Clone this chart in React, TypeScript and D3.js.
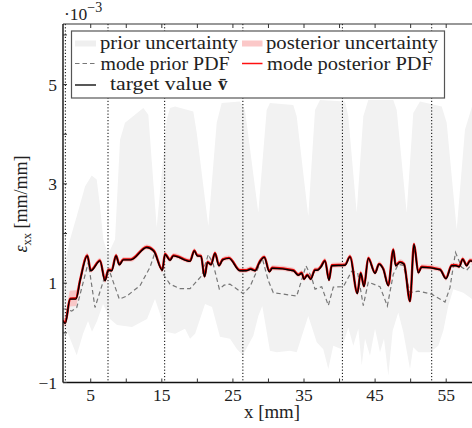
import React from 'react';
import * as d3 from 'd3';

// ---- data (strain values in units of 1e-3) ----
const targetX = [1.06,1.43,2.09,2.93,3.50,4.52,5.00,6.31,7.01,7.48,7.95,8.56,9.02,9.59,10.63,12.88,13.90,15.07,15.45,16.15,16.62,18.97,19.57,19.99,20.51,21.01,21.43,21.92,22.48,23.04,23.57,24.45,26.0,26.80,27.50,28.11,28.81,29.42,30.12,30.54,33.50,34.20,34.68,35.0,35.46,35.94,36.54,36.87,37.35,37.95,38.52,38.90,40.77,41.47,42.50,42.97,43.44,44.04,44.99,45.55,46.15,46.86,47.56,47.90,48.50,49.07,49.91,50.47,51.08,51.55,54.13,54.97,55.77,56.38,56.84,57.32,57.88,58.35,58.63];
const targetValue = [0.24,0.19,0.68,0.68,1.05,1.55,1.25,1.45,1.05,1.26,1.25,1.55,1.37,1.47,1.47,1.72,1.64,1.26,1.58,1.46,1.55,1.44,1.65,1.55,1.54,1.13,1.42,1.37,1.60,1.35,1.47,1.50,1.25,1.25,1.28,1.25,1.44,1.52,1.23,1.30,1.25,1.16,1.20,1.08,1.16,1.08,1.26,1.26,1.32,1.45,1.06,1.35,1.36,1.53,0.79,1.20,0.93,1.50,1.20,1.38,1.28,0.95,1.67,1.35,1.42,1.38,0.63,1.78,1.21,1.32,1.27,1.09,1.35,1.35,1.33,1.48,1.35,1.45,1.44];
const posteriorMode = [0.25,0.21,0.69,0.70,1.06,1.56,1.26,1.46,1.06,1.27,1.26,1.56,1.38,1.48,1.48,1.73,1.65,1.27,1.59,1.47,1.56,1.45,1.66,1.56,1.55,1.14,1.43,1.38,1.61,1.36,1.48,1.51,1.26,1.26,1.29,1.26,1.45,1.53,1.24,1.31,1.26,1.17,1.21,1.09,1.17,1.09,1.27,1.27,1.33,1.46,1.07,1.36,1.37,1.54,0.80,1.21,0.94,1.51,1.21,1.39,1.29,0.96,1.68,1.36,1.43,1.39,0.64,1.79,1.22,1.33,1.28,1.10,1.36,1.36,1.34,1.49,1.36,1.46,1.45];
const posteriorSpread = [0.06,0.08,0.16,0.16,0.09,0.06,0.05,0.05,0.05,0.05,0.05,0.05,0.05,0.05,0.05,0.05,0.05,0.05,0.05,0.05,0.05,0.05,0.05,0.05,0.05,0.05,0.05,0.05,0.05,0.05,0.05,0.05,0.05,0.05,0.05,0.05,0.05,0.05,0.05,0.05,0.05,0.05,0.05,0.05,0.05,0.05,0.05,0.05,0.05,0.05,0.05,0.05,0.05,0.05,0.05,0.05,0.05,0.05,0.05,0.05,0.05,0.05,0.05,0.05,0.05,0.05,0.05,0.05,0.05,0.05,0.05,0.05,0.05,0.05,0.05,0.05,0.05,0.05,0.05];

const priorModeX = [1.06,1.39,2.33,3.03,4.66,5.60,7.01,7.62,9.02,10.06,11.93,13.34,14.04,15.21,16.15,17.56,18.97,20.61,21.54,22.24,23.09,23.75,24.59,26.46,27.40,29.13,29.98,30.68,33.97,35.28,36.08,36.55,37.49,38.42,39.12,40.53,41.71,42.55,43.34,44.04,45.69,46.72,47.56,48.26,48.97,49.91,51.08,52.96,54.83,55.53,56.31,57.18,57.88,58.59];
const priorModeValue = [0.48,0.48,0.44,0.51,1.42,0.51,1.15,1.25,0.68,0.74,0.95,1.32,1.62,1.18,0.98,0.89,0.89,1.15,1.58,1.38,0.88,0.96,0.98,0.79,0.93,1.50,1.05,0.81,0.74,1.35,1.11,0.88,0.93,0.55,0.92,0.93,1.24,1.21,0.55,1.02,0.93,0.54,1.18,1.38,1.36,0.81,0.84,0.78,0.62,0.91,1.62,1.32,1.26,1.38];

const priorUpperX = [1.10,2.09,3.03,4.21,5.14,5.84,6.31,6.77,7.43,8.42,9.12,9.82,12.40,13.10,14.28,15.69,16.15,16.86,19.43,19.91,21.54,22.72,23.42,26.0,26.70,28.57,29.75,30.21,33.49,33.97,35.60,36.55,37.25,40.77,41.23,42.41,43.34,44.04,47.56,48.04,49.44,50.37,51.31,54.37,55.07,56.48,57.64,58.63];
const priorUpper = [1.2,1.88,2.35,2.95,3.17,3.09,2.55,1.88,1.58,1.88,3.89,4.23,4.53,4.39,2.12,4.29,4.53,4.56,4.46,4.03,2.15,4.23,4.63,4.66,4.49,2.42,4.49,4.63,4.59,4.36,2.35,4.49,4.69,4.66,4.36,2.42,4.36,4.69,4.69,4.49,2.42,4.43,4.66,4.56,4.23,2.08,4.09,4.56];
const priorLowerX = [1.10,1.81,3.03,3.92,4.62,5.18,5.89,6.73,7.71,8.70,10.81,12.92,14.04,14.75,15.59,16.86,18.26,18.97,19.68,21.08,22.06,23.18,24.59,25.58,26.38,27.87,28.57,29.13,29.75,30.21,31.16,33.03,33.97,35.60,36.79,37.71,38.42,39.12,40.30,41.23,41.93,42.64,43.12,43.58,44.28,44.99,45.69,46.25,46.86,47.47,48.26,48.97,49.91,50.37,51.08,52.72,53.89,54.59,55.29,56.0,57.41,58.63];
const priorLower = [0.18,-0.02,-0.45,-0.02,0.24,0.02,0.24,0.58,0.28,0.16,0.12,0.28,0.68,0.38,0.02,-0.02,0.08,-0.12,-0.02,0.58,0.52,-0.08,-0.12,-0.33,-0.45,-0.06,0.34,0.54,0.02,-0.36,-0.39,-0.36,-0.39,0.34,-0.19,-0.33,-0.73,-0.26,-0.33,0.11,-0.26,0.08,-0.66,-0.12,-0.46,0.08,-0.39,-0.12,-0.86,0.04,0.41,0.01,-0.73,-0.29,-0.39,-0.39,-0.26,0.04,0.54,0.88,0.81,0.68];

const sensorPositions = [1.43, 7.43, 15.4, 26.4, 40.4, 52.96];
const xTicks = [5,10,15,20,25,30,35,40,45,50,55];
const xTickLabels = [5,15,25,35,45,55];
const yTicks = [-1,0,1,2,3,4,5,6];
const yTickLabels = [-1,1,3,5];

const FONT = '"Liberation Serif", "DejaVu Serif", serif';

export default function App() {
  const L = 63, R = 472, T = 24, B = 382.5;
  const x = d3.scaleLinear().domain([1.1, 58.63]).range([L, R]);
  const y = d3.scaleLinear().domain([-1, 6.22]).range([B, T]);

  const line = d3.line<[number, number]>().x(d => x(d[0])).y(d => y(d[1]));
  const lineSmooth = d3.line<[number, number]>().x(d => x(d[0])).y(d => y(d[1])).curve(d3.curveMonotoneX);

  const upperPts: [number, number][] = priorUpperX.map((v, i) => [v, priorUpper[i]]);
  const lowerPts: [number, number][] = priorLowerX.map((v, i) => [v, priorLower[i]]).reverse() as [number, number][];
  const priorBand = line([...upperPts, ...lowerPts]) + 'Z';

  const postArea = d3.area<number>()
    .x((_, i) => x(targetX[i]))
    .y0((_, i) => y(posteriorMode[i] - posteriorSpread[i]))
    .y1((_, i) => y(posteriorMode[i] + posteriorSpread[i]))
    .curve(d3.curveMonotoneX)(posteriorMode);

  const targetPath = lineSmooth(targetX.map((v, i) => [v, targetValue[i]]));
  const postPath = lineSmooth(targetX.map((v, i) => [v, posteriorMode[i]]));
  const priorModePath = line(priorModeX.map((v, i) => [v, priorModeValue[i]]));

  const legendRows = [49, 70, 90];

  return (
    <svg width={472} height={428} style={{ position: 'absolute', left: 0, top: 0, background: '#fff' }} fontFamily={FONT}>
      <defs>
        <clipPath id="plotClip"><rect x={L} y={T} width={R - L} height={B - T} /></clipPath>
      </defs>
      <g clipPath="url(#plotClip)">
        <path d={priorBand} fill="#f2f2f2" stroke="none" />
        <path d={postArea || ''} fill="#f9bcbc" opacity={0.8} />
        {sensorPositions.map((s, i) => (
          <line key={i} x1={x(s)} x2={x(s)} y1={T} y2={B} stroke="#000" strokeWidth={1} strokeDasharray="1.2 2" />
        ))}
        <path d={priorModePath || ''} fill="none" stroke="#777" strokeWidth={1.2} strokeDasharray="4.5 3" />
        <path d={postPath || ''} fill="none" stroke="#e00000" strokeWidth={2.4} />
        <path d={targetPath || ''} fill="none" stroke="#000" strokeWidth={1.4} />
      </g>

      {/* spines */}
      <line x1={L} x2={R} y1={T} y2={T} stroke="#333" strokeWidth={1.2} />
      <line x1={L} x2={R} y1={B} y2={B} stroke="#111" strokeWidth={1.4} />
      <line x1={L} x2={L} y1={T} y2={B} stroke="#111" strokeWidth={1.4} />

      {/* x ticks */}
      {xTicks.map(t => (
        <g key={t}>
          <line x1={x(t)} x2={x(t)} y1={B} y2={B - 4} stroke="#333" strokeWidth={1} />
          <line x1={x(t)} x2={x(t)} y1={T} y2={T + 4} stroke="#333" strokeWidth={1} />
        </g>
      ))}
      {xTickLabels.map(t => (
        <text key={t} x={x(t)} y={401} textAnchor="middle" fontSize={17.5} fill="#222">{t}</text>
      ))}
      {/* y ticks */}
      {yTicks.map(t => (
        <line key={t} x1={L} x2={L + 4} y1={y(t)} y2={y(t)} stroke="#333" strokeWidth={1} />
      ))}
      {yTickLabels.map(t => (
        <text key={t} x={57} y={y(t)} dy="0.35em" textAnchor="end" fontSize={17.5} fill="#222">{t < 0 ? '\u2212' + Math.abs(t) : t}</text>
      ))}

      {/* exponent */}
      <text x={64} y={20} fontSize={17.5} fill="#222">·10<tspan dy={-8} fontSize={14}>{'\u22123'}</tspan></text>

      {/* axis labels */}
      <text x={272} y={418} textAnchor="middle" fontSize={18} fill="#222" textLength={56} lengthAdjust="spacingAndGlyphs">x [mm]</text>
      <text transform="translate(27,204) rotate(-90)" textAnchor="middle" fontSize={18} fill="#222">
        <tspan fontStyle="italic">ε</tspan><tspan fontSize={12.5} dy={4}>xx</tspan><tspan dy={-4}> [mm/mm]</tspan>
      </text>

      {/* legend */}
      <rect x={71.5} y={31} width={373} height={67} fill="#fff" stroke="#555" strokeWidth={1.2} />
      <rect x={75} y={40.5} width={21} height={6} fill="#efefef" />
      <line x1={75} x2={96} y1={63.5} y2={63.5} stroke="#777" strokeWidth={1.2} strokeDasharray="4.5 3" />
      <line x1={75} x2={96} y1={85} y2={85} stroke="#111" strokeWidth={1.4} />
      <rect x={242} y={40.5} width={20.5} height={6} fill="#fbc8c8" />
      <line x1={242} x2={262.5} y1={63.5} y2={63.5} stroke="#ff1010" strokeWidth={1.5} />
      <text x={100} y={legendRows[0]} fontSize={19} fill="#222" textLength={138} lengthAdjust="spacingAndGlyphs">prior uncertainty</text>
      <text x={100.5} y={legendRows[1]} fontSize={19} fill="#222" textLength={129} lengthAdjust="spacingAndGlyphs">mode prior PDF</text>
      <text x={110} y={legendRows[2]} fontSize={19} fill="#222">
        <tspan textLength={102} lengthAdjust="spacingAndGlyphs">target value</tspan>
        <tspan fontWeight="bold" dx={6}>{'v\u0304'}</tspan>
      </text>
      <text x={266} y={legendRows[0]} fontSize={19} fill="#222" textLength={172} lengthAdjust="spacingAndGlyphs">posterior uncertainty</text>
      <text x={267} y={legendRows[1]} fontSize={19} fill="#222" textLength={166} lengthAdjust="spacingAndGlyphs">mode posterior PDF</text>
    </svg>
  );
}
